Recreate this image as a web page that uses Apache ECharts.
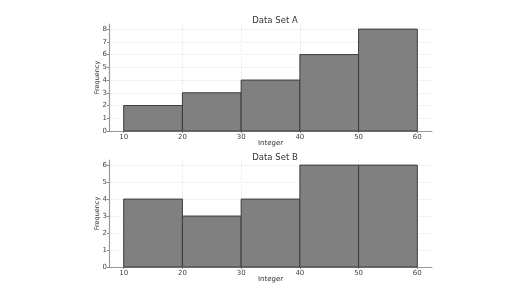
<!DOCTYPE html>
<html>
<head>
<meta charset="utf-8">
<script src="https://cdn.jsdelivr.net/npm/echarts@6/dist/echarts.min.js"></script>
<style>
  html, body { margin: 0; padding: 0; background: #fff; }
  #chart { width: 528px; height: 297px; }
</style>
</head>
<body>
<div id="chart"></div>
<script>
const binStarts = [10, 20, 30, 40, 50]
const binEnds = [20, 30, 40, 50, 60]
const countsA = [2, 3, 4, 6, 8]
const countsB = [4, 3, 4, 6, 6]
const xTicks = [10, 20, 30, 40, 50, 60]

const FONT = 'DejaVu Sans'
const chart = echarts.init(document.getElementById('chart'), null, { renderer: 'canvas' })

const toBins = counts => counts.map((c, i) => [binStarts[i], binEnds[i], c])

function renderBar(params, api) {
  const p0 = api.coord([api.value(0), api.value(2)])
  const p1 = api.coord([api.value(1), 0])
  return {
    type: 'rect',
    shape: { x: p0[0], y: p0[1], width: p1[0] - p0[0], height: p1[1] - p0[1] },
    style: { fill: '#808080', stroke: '#3c3c3c', lineWidth: 1 },
  }
}

const xAxisFor = gridIndex => ({
  type: 'value',
  gridIndex,
  min: 7.5,
  max: 62.5,
  interval: 10,
  axisLabel: {
    color: '#444', fontSize: 7, fontFamily: FONT, margin: 3,
    customValues: xTicks,
  },
  axisTick: { show: true, length: 2, lineStyle: { color: '#888' }, customValues: xTicks },
  axisLine: { onZero: false, lineStyle: { color: '#999', width: 1.2 } },
  splitLine: { show: true, showMinLine: false, showMaxLine: false,
    lineStyle: { color: '#e6e6e6', type: 'dotted' } },
  name: 'Integer',
  nameLocation: 'middle',
  nameGap: 9,
  nameMoveOverlap: false,
  nameTextStyle: { color: '#333', fontSize: 7, fontFamily: FONT },
})

const yAxisFor = (gridIndex, max) => ({
  type: 'value',
  gridIndex,
  min: 0,
  max,
  interval: 1,
  axisLabel: {
    color: '#444', fontSize: 7, fontFamily: FONT, margin: 2,
    showMaxLabel: false,
  },
  axisTick: { show: true, length: 2, lineStyle: { color: '#888' } },
  axisLine: { show: true, lineStyle: { color: '#999', width: 1.2 } },
  splitLine: { show: true, showMinLine: false, showMaxLine: false,
    lineStyle: { color: '#e6e6e6', type: 'dotted' } },
  name: 'Frequency',
  nameLocation: 'middle',
  nameGap: 8,
  nameMoveOverlap: false,
  nameTextStyle: { color: '#333', fontSize: 6.5, fontFamily: FONT },
})

const option = {
  animation: false,
  title: [
    { text: 'Data Set A', left: 270, top: 11, textAlign: 'center',
      textStyle: { color: '#333', fontSize: 8.5, fontWeight: 'normal', fontFamily: FONT } },
    { text: 'Data Set B', left: 270, top: 148, textAlign: 'center',
      textStyle: { color: '#333', fontSize: 8.5, fontWeight: 'normal', fontFamily: FONT } },
  ],
  grid: [
    { left: 109, right: 96, top: 24, height: 107 },
    { left: 109, right: 96, top: 160, height: 107 },
  ],
  xAxis: [xAxisFor(0), xAxisFor(1)],
  yAxis: [yAxisFor(0, 8.4), yAxisFor(1, 6.3)],
  series: [
    { type: 'custom', xAxisIndex: 0, yAxisIndex: 0, renderItem: renderBar,
      encode: { x: [0, 1], y: 2 }, data: toBins(countsA) },
    { type: 'custom', xAxisIndex: 1, yAxisIndex: 1, renderItem: renderBar,
      encode: { x: [0, 1], y: 2 }, data: toBins(countsB) },
  ],
}

chart.setOption(option)
</script>
</body>
</html>
